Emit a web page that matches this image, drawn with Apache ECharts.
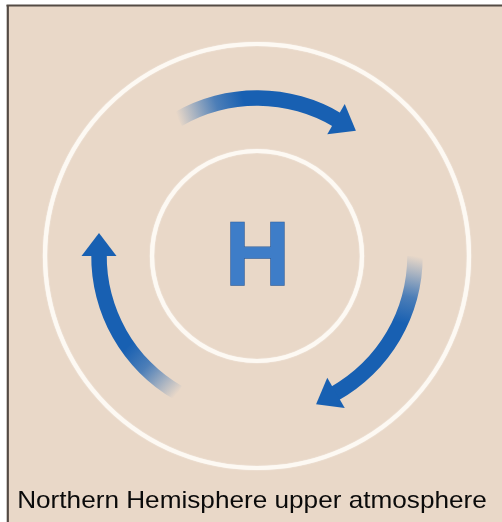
<!DOCTYPE html>
<html>
<head>
<meta charset="utf-8">
<script src="https://cdn.jsdelivr.net/npm/echarts@6/dist/echarts.min.js"></script>
<style>
html,body{margin:0;padding:0;background:#ffffff;}
#chart{width:502px;height:522px;}
</style>
</head>
<body>
<div id="chart"></div>
<script>
// ---- diagram data ----
const center = [257, 256];                 // pressure centre (diagram units)
const ringRadii = [105, 212];              // isobars around the high
const arrowTailAngles = [120, 0, 240];     // where each flow arrow starts (deg, math convention)
const arrowSweep = [60, 60, 60];           // arc each arrow covers, clockwise (deg)
const arrowRadius = [158, 158, 158];       // radius of the flow path
const centerLabel = ['H'];
const caption = ['Northern Hemisphere upper atmosphere'];

const BLUE = [24, 96, 178];
const rgba = (a) => `rgba(${BLUE[0]},${BLUE[1]},${BLUE[2]},${a})`;

const chart = echarts.init(document.getElementById('chart'), null, {renderer: 'canvas'});

const ringData = ringRadii.map(r => [center[0], center[1], r]);
const arrowData = arrowTailAngles.map((a, i) => [center[0], center[1], arrowRadius[i], a, arrowSweep[i]]);

const option = {
  animation: false,
  backgroundColor: '#ffffff',
  grid: {left: 0, right: 0, top: 0, bottom: 0},
  xAxis: {type: 'value', min: 0, max: 502, show: false},
  yAxis: {type: 'value', min: 0, max: 522, inverse: true, show: false},
  graphic: [
    {type: 'rect', shape: {x: 7, y: 5, width: 500, height: 520}, style: {fill: '#e9d8c8'}, z: -10},
    {type: 'line', shape: {x1: 6.5, y1: 5.5, x2: 502, y2: 5.5}, style: {stroke: '#544b44', lineWidth: 2.2}, z: -9},
    {type: 'line', shape: {x1: 7.8, y1: 5, x2: 7.8, y2: 522}, style: {stroke: '#544b44', lineWidth: 2.2}, z: -9}
  ],
  series: [
    {
      type: 'custom',
      name: 'rings',
      data: ringData,
      silent: true,
      renderItem: function (params, api) {
        const c = api.coord([api.value(0), api.value(1)]);
        const r = api.size([api.value(2), 0])[0];
        return {
          type: 'circle',
          shape: {cx: c[0], cy: c[1], r: r},
          style: {fill: 'none', stroke: '#fdf9f3', lineWidth: 4.2, shadowBlur: 1.5, shadowColor: 'rgba(255,255,255,0.8)'}
        };
      }
    },
    {
      type: 'custom',
      name: 'flow',
      data: arrowData,
      silent: true,
      renderItem: function (params, api) {
        const c = api.coord([api.value(0), api.value(1)]);
        const R = api.size([api.value(2), 0])[0];
        const tail = api.value(3), sweep = api.value(4);
        const w = 15.5, headW = 35, headL = 23;
        const toRad = Math.PI / 180;
        const sStart = -tail * toRad;
        const sEnd = (-tail + sweep) * toRad;
        const pt = (phi, rr) => [c[0] + rr * Math.cos(phi), c[1] + rr * Math.sin(phi)];
        const p0 = pt(sStart, R);
        const p1 = pt(sStart + 25 * toRad, R);
        const grad = new echarts.graphic.LinearGradient(p0[0], p0[1], p1[0], p1[1], [
          {offset: 0, color: rgba(0.0)},
          {offset: 0.25, color: rgba(0.3)},
          {offset: 0.6, color: rgba(0.75)},
          {offset: 1, color: rgba(1)}
        ], true);
        const B = pt(sEnd, R);
        const n = [Math.cos(sEnd), Math.sin(sEnd)];
        const t = [-Math.sin(sEnd), Math.cos(sEnd)];
        const head = [
          [B[0] + n[0] * headW / 2, B[1] + n[1] * headW / 2],
          [B[0] + t[0] * headL, B[1] + t[1] * headL],
          [B[0] - n[0] * headW / 2, B[1] - n[1] * headW / 2]
        ];
        return {
          type: 'group',
          children: [
            {
              type: 'sector',
              shape: {cx: c[0], cy: c[1], r0: R - w / 2, r: R + w / 2, startAngle: sStart, endAngle: sEnd + 0.8 * toRad, clockwise: true},
              style: {fill: grad}
            },
            {
              type: 'polygon',
              shape: {points: head},
              style: {fill: rgba(1)}
            }
          ]
        };
      }
    },
    {
      type: 'custom',
      name: 'label',
      data: [[center[0] + 0.5, center[1]]],
      silent: true,
      renderItem: function (params, api) {
        const c = api.coord([api.value(0), api.value(1)]);
        return {
          type: 'text',
          x: c[0], y: c[1] + 4,
          style: {
            text: centerLabel[0], x: 0, y: 0,
            font: 'bold 90px "Liberation Sans", Arial, sans-serif',
            fill: '#3e7dc8', stroke: '#2b5c9c', lineWidth: 1.4,
            align: 'center', verticalAlign: 'middle'
          }
        };
      }
    },
    {
      type: 'custom',
      name: 'caption',
      data: [[252, 501]],
      silent: true,
      renderItem: function (params, api) {
        const c = api.coord([api.value(0), api.value(1)]);
        return {
          type: 'text',
          x: c[0], y: c[1],
          scaleX: 1.09,
          style: {
            text: caption[0], x: 0, y: 0,
            font: '24px "Liberation Sans", Arial, sans-serif',
            fill: '#0a0a0a',
            align: 'center', verticalAlign: 'middle'
          }
        };
      }
    }
  ]
};
chart.setOption(option);
</script>
</body>
</html>
